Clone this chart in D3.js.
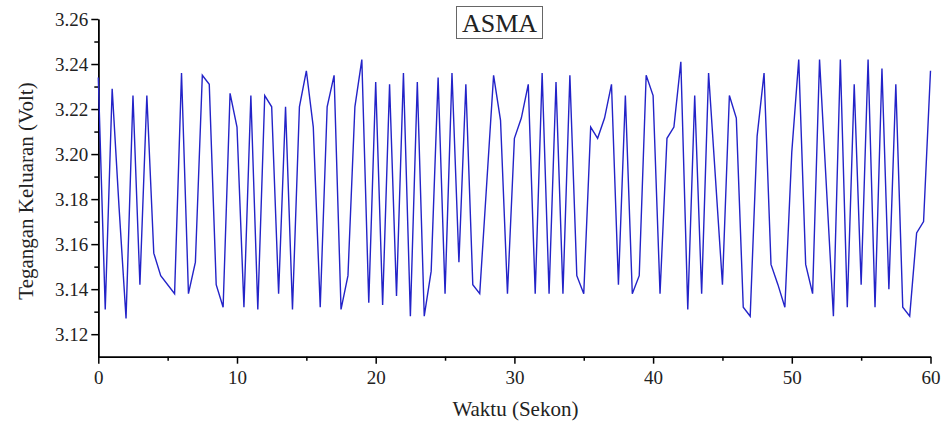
<!DOCTYPE html>
<html>
<head>
<meta charset="utf-8">
<script src="https://cdn.jsdelivr.net/npm/d3@7"></script>
<style>
  body { margin: 0; background: #fff; }
  svg text { font-family: 'Liberation Serif', 'Times New Roman', serif; fill: #222; }
  .axis path, .axis line { stroke: #000; stroke-width: 1.5; }
</style>
</head>
<body>
<svg id="chart"></svg>
<script>
// time (s) and output voltage (V)
var waktu = [0, 0.5, 1, 1.5, 2, 2.5, 3, 3.5, 4, 4.5, 5.5, 6, 6.5, 7, 7.5, 8, 8.5, 9, 9.5, 10,
  10.5, 11, 11.5, 12, 12.5, 13, 13.5, 14, 14.5, 15, 15.5, 16, 16.5, 17, 17.5, 18, 18.5, 19, 19.5, 20,
  20.5, 21, 21.5, 22, 22.5, 23, 23.5, 24, 24.5, 25, 25.5, 26, 26.5, 27, 27.5, 28.5, 29, 29.5, 30, 30.5,
  31, 31.5, 32, 32.5, 33, 33.5, 34, 34.5, 35, 35.5, 36, 36.5, 37, 37.5, 38, 38.5, 39, 39.5, 40, 40.5,
  41, 41.5, 42, 42.5, 43, 43.5, 44, 45, 45.5, 46, 46.5, 47, 47.5, 48, 48.5, 49, 49.5, 50, 50.5,
  51, 51.5, 52, 53, 53.5, 54, 54.5, 55, 55.5, 56, 56.5, 57, 57.5, 58, 58.5, 59, 59.5, 60];
var tegangan = [3.234, 3.131, 3.229, 3.176, 3.127, 3.226, 3.142, 3.226, 3.156, 3.146, 3.138, 3.236, 3.138, 3.152, 3.235, 3.231, 3.142, 3.132, 3.227, 3.212,
  3.132, 3.226, 3.131, 3.226, 3.221, 3.138, 3.221, 3.131, 3.221, 3.237, 3.212, 3.132, 3.221, 3.235, 3.131, 3.146, 3.221, 3.242, 3.134, 3.232,
  3.133, 3.231, 3.137, 3.236, 3.128, 3.232, 3.128, 3.148, 3.234, 3.138, 3.236, 3.152, 3.231, 3.142, 3.138, 3.235, 3.215, 3.138, 3.207, 3.216,
  3.231, 3.138, 3.236, 3.138, 3.232, 3.138, 3.235, 3.146, 3.138, 3.212, 3.207, 3.216, 3.231, 3.142, 3.226, 3.138, 3.146, 3.235, 3.226, 3.138,
  3.207, 3.212, 3.241, 3.131, 3.226, 3.138, 3.236, 3.142, 3.226, 3.216, 3.132, 3.128, 3.208, 3.236, 3.151, 3.142, 3.132, 3.201, 3.242,
  3.151, 3.138, 3.242, 3.128, 3.242, 3.132, 3.231, 3.142, 3.242, 3.132, 3.238, 3.140, 3.231, 3.132, 3.128, 3.165, 3.170, 3.237];

var xTicks = [0, 10, 20, 30, 40, 50, 60];
var xMinor = [5, 15, 25, 35, 45, 55];
var yTicks = [3.12, 3.14, 3.16, 3.18, 3.20, 3.22, 3.24, 3.26];
var yMinor = [3.13, 3.15, 3.17, 3.19, 3.21, 3.23, 3.25];

var judul = 'ASMA';
var labelX = 'Waktu (Sekon)';
var labelY = 'Tegangan Keluaran (Volt)';

(function () {
  'use strict';

  var W = 941, H = 421;
  var margin = {top: 19, right: 10.5, bottom: 64.3, left: 98.3};
  var width = W - margin.left - margin.right;
  var height = H - margin.top - margin.bottom;

  var svg = d3.select('#chart')
    .attr('width', W)
    .attr('height', H);

  var x = d3.scaleLinear().domain([0, 60]).range([0, width]);
  var y = d3.scaleLinear().domain([3.11, 3.26]).range([height, 0]);

  var g = svg.append('g')
    .attr('transform', 'translate(' + margin.left + ',' + margin.top + ')');

  // minor ticks first, the major axes draw on top
  g.append('g')
    .attr('class', 'axis')
    .attr('transform', 'translate(0,' + height + ')')
    .call(d3.axisBottom(x).tickValues(xMinor).tickSize(4).tickSizeOuter(0).tickFormat(''));
  g.append('g')
    .attr('class', 'axis')
    .call(d3.axisLeft(y).tickValues(yMinor).tickSize(4).tickSizeOuter(0).tickFormat(''));

  var xAxis = g.append('g')
    .attr('class', 'axis axis--x')
    .attr('transform', 'translate(0,' + height + ')')
    .call(d3.axisBottom(x).tickValues(xTicks).tickSize(7).tickSizeOuter(0).tickPadding(6));
  xAxis.selectAll('text')
    .style('font-size', '19px')
    .attr('dy', '0.75em');

  var yAxis = g.append('g')
    .attr('class', 'axis axis--y')
    .call(d3.axisLeft(y).tickValues(yTicks).tickSize(7).tickSizeOuter(0).tickPadding(3)
      .tickFormat(d3.format('.2f')));
  yAxis.selectAll('text')
    .style('font-size', '19px');

  var data = waktu.map(function (t, i) { return {t: t, v: tegangan[i]}; });

  var line = d3.line()
    .x(function (d) { return x(d.t); })
    .y(function (d) { return y(d.v); });

  g.append('path')
    .datum(data)
    .attr('class', 'line')
    .attr('d', line)
    .style('fill', 'none')
    .style('stroke', '#2323c8')
    .style('stroke-width', 1.4)
    .style('stroke-linejoin', 'miter');

  // axis titles
  svg.append('text')
    .attr('x', margin.left + width / 2 + 1)
    .attr('y', 416)
    .style('text-anchor', 'middle')
    .style('font-size', '21px')
    .text(labelX);

  svg.append('text')
    .attr('transform', 'translate(33,' + 191 + ') rotate(-90)')
    .style('text-anchor', 'middle')
    .style('font-size', '21px')
    .text(labelY);

  // boxed title
  var tg = svg.append('g').attr('class', 'title');
  tg.append('rect')
    .attr('x', 456.5)
    .attr('y', 6.5)
    .attr('width', 86)
    .attr('height', 32)
    .style('fill', '#fff')
    .style('stroke', '#666')
    .style('stroke-width', 1);
  tg.append('text')
    .attr('x', 499.5)
    .attr('y', 32)
    .style('text-anchor', 'middle')
    .style('font-size', '26px')
    .text(judul);
}());
</script>
</body>
</html>
